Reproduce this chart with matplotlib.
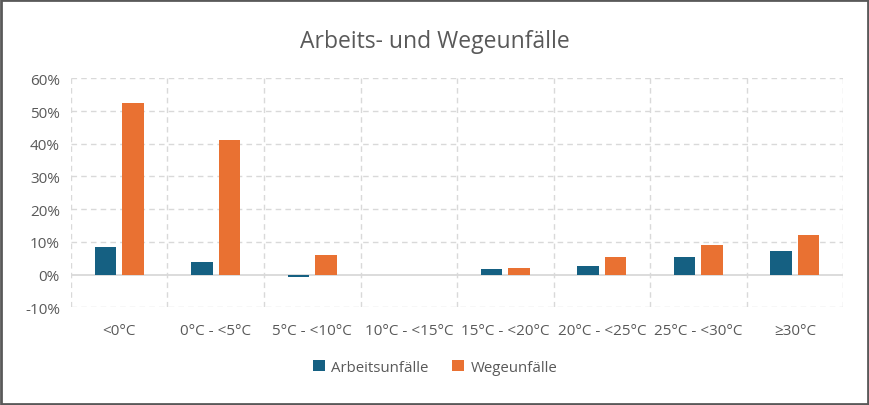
import matplotlib.pyplot as plt
import matplotlib.ticker as mtick
import numpy as np

# Kategorien und Werte (in %)
kategorien = ['<0°C', '0°C - <5°C', '5°C - <10°C', '10°C - <15°C',
              '15°C - <20°C', '20°C - <25°C', '25°C - <30°C', '≥30°C']
arbeitsunfaelle = [8.4, 4.0, -0.6, 0.0, 1.7, 2.6, 5.4, 7.2]
wegeunfaelle = [52.4, 41.2, 6.1, 0.0, 2.0, 5.3, 9.0, 12.2]

plt.rcParams['font.family'] = ['Open Sans', 'DejaVu Sans']

fig = plt.figure(figsize=(8.7, 4.06), dpi=100)
ax = fig.add_axes([0.0816, 0.2406, 0.8874, 0.5641])

x = np.arange(len(kategorien))
breite = 0.225
ax.bar(x - 0.142, arbeitsunfaelle, breite, color='#156082', label='Arbeitsunfälle', zorder=3)
ax.bar(x + 0.142, wegeunfaelle, breite, color='#E97132', label='Wegeunfälle', zorder=3)

ax.set_xlim(-0.5, len(kategorien) - 0.5)
ax.set_ylim(-10, 60)
ax.set_yticks(range(-10, 61, 10))
ax.yaxis.set_major_formatter(mtick.FuncFormatter(lambda v, p: f'{v:.0f}%'))
ax.set_xticks(x)
ax.set_xticklabels(kategorien)

# Gitter: gestrichelt horizontal und an den Kategoriegrenzen
for y in range(-10, 61, 10):
    if y == 0:
        ax.axhline(0, color='#d9d9d9', lw=1.3, zorder=2)
    else:
        ax.axhline(y, color='#d9d9d9', lw=1, ls=(0, (4, 3)), zorder=1)
for xb in np.arange(-0.5, len(kategorien), 1):
    ax.axvline(xb, color='#d9d9d9', lw=1, ls=(0, (4, 3)), zorder=1)

for s in ax.spines.values():
    s.set_visible(False)
ax.tick_params(length=0, labelsize=11, labelcolor='#595959')
ax.tick_params(axis='x', pad=11)
ax.tick_params(axis='y', pad=8)

fig.text(0.5, 0.897, 'Arbeits- und Wegeunfälle', ha='center', va='center',
         fontsize=16.5, color='#595959')

fig.legend(loc='center', bbox_to_anchor=(0.5, 0.093), ncol=2, frameon=False,
           fontsize=10.8, labelcolor='#595959', handlelength=0.8, handleheight=0.8,
           handletextpad=0.4, columnspacing=1.6)

# Rahmen um die Grafik
fig.patches.append(plt.Rectangle((0.001, 0.002), 0.997, 0.995, transform=fig.transFigure,
                                 fill=False, edgecolor='#595959', lw=2))

fig.savefig('out.png', dpi=100)
